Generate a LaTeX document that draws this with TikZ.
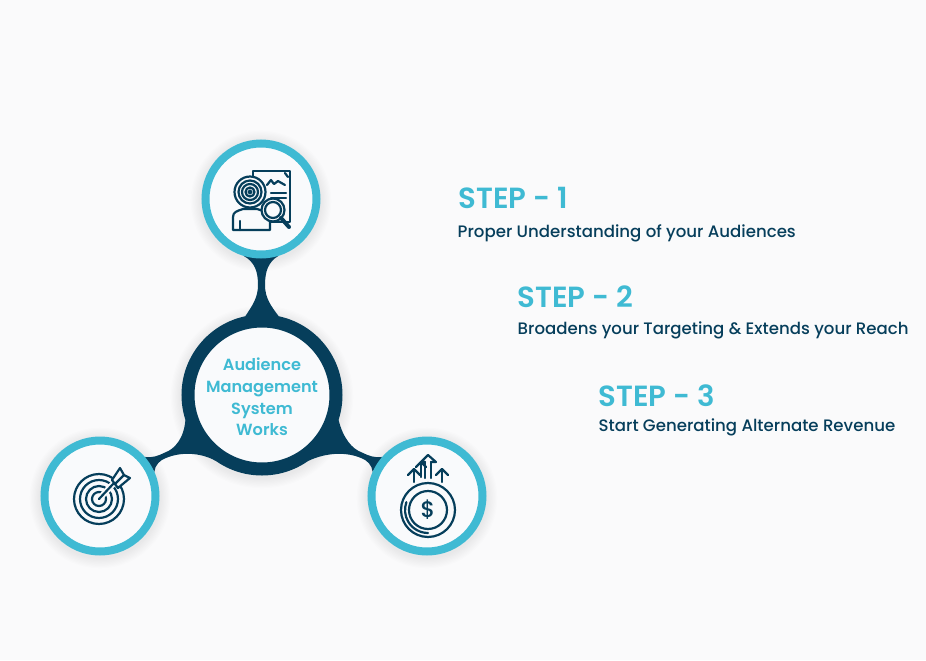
\documentclass[tikz,border=0pt]{standalone}
\usepackage{fontspec}
\setmainfont{Poppins}[UprightFont=* Medium,BoldFont=* SemiBold]
\usetikzlibrary{calc,backgrounds}
\definecolor{capteal}{HTML}{3FBAD3}
\definecolor{capnavy}{HTML}{063E5B}
\definecolor{capback}{HTML}{FAFAFB}
\definecolor{capfill}{HTML}{F9FAFC}
\tikzset{
	stepring/.style={circle,draw=capteal,fill=capfill,line width=0.08cm,minimum size=1.11cm,inner sep=0pt},
	hubring/.style={circle,draw=capnavy,fill=capfill,line width=0.13cm,minimum size=1.48cm,inner sep=0pt},
	hubtext/.style={text=capteal,align=center,font=\fontsize{4.6}{6.15}\selectfont\bfseries},
	steptitle/.style={anchor=base west,inner sep=0pt,text=capteal,font=\fontsize{8.3}{9}\selectfont\bfseries},
	stepsub/.style={anchor=base west,inner sep=0pt,text=capnavy,font=\fontsize{4.72}{6}\selectfont},
	iconline/.style={draw=capnavy,line width=0.022cm,line cap=round,line join=round},
	iconscope/.style={x=0.01cm,y=-0.01cm}
}
\begin{document}
\begin{tikzpicture}
	\useasboundingbox (0.,0.) rectangle (9.26,6.60);
	\node[hubring] (hub) at (2.62,2.65) {};
	\node[hubtext] (hublabel) at (2.62,2.63) {Audience\\Management\\System\\Works};
	\node[stepring] (topring) at (2.61,4.61) {};
	\node[stepring] (leftring) at (1.00,1.64) {};
	\node[stepring] (rightring) at (4.27,1.64) {};
	
	\begin{scope}[on background layer]
		\fill[capback] (0.,0.) rectangle (9.26,6.60);
		\foreach \glow in {1,2,...,9}{
			\fill[black,opacity=0.009] ($(topring)+(0,-0.02)$) circle (0.595+0.012*\glow);
			\fill[black,opacity=0.009] ($(leftring)+(0,-0.02)$) circle (0.595+0.012*\glow);
			\fill[black,opacity=0.009] ($(rightring)+(0,-0.02)$) circle (0.595+0.012*\glow);
			\fill[black,opacity=0.009] ($(hub)+(0,-0.02)$) circle (0.805+0.012*\glow);
		}
		\fill[capnavy] (topring.253) .. controls (2.55,3.98) and (2.58,3.88) .. (2.58,3.75)
			.. controls (2.58,3.62) and (2.52,3.54) .. (hub.102) -- (hub.78)
			.. controls (2.71,3.54) and (2.65,3.62) .. (2.65,3.75)
			.. controls (2.65,3.88) and (2.68,3.98) .. (topring.287) -- cycle;
		\fill[capnavy] (leftring.41) .. controls (1.52,2.02) and (1.58,2.04) .. (1.65,2.075)
			.. controls (1.75,2.11) and (1.84,2.22) .. (hub.198) -- (hub.235)
			.. controls (2.00,2.08) and (1.80,2.08) .. (1.66,2.02)
			.. controls (1.60,2.00) and (1.55,1.95) .. (leftring.24) -- cycle;
		\fill[capnavy] (rightring.139) .. controls (3.75,2.02) and (3.69,2.04) .. (3.62,2.075)
			.. controls (3.52,2.11) and (3.43,2.22) .. (hub.342) -- (hub.305)
			.. controls (3.27,2.08) and (3.47,2.08) .. (3.61,2.02)
			.. controls (3.67,2.00) and (3.72,1.95) .. (rightring.156) -- cycle;
	\end{scope}
	
	% audience icon
	\begin{scope}[shift={(topring)},iconscope]
		\draw[iconline,fill=capfill] (-8,-28) rectangle (29,23);
		\draw[iconline] (6,-14) -- (10,-19) -- (13,-15) -- (17,-18) -- (24,-14);
		\draw[iconline] (24,-26) -- (27,-22);
		\draw[iconline] (10,-6) -- (25,-6);
		\draw[iconline] (10,-1) -- (25,-1);
		\draw[iconline,fill=capfill] (-28,31) -- (-28,18) .. controls (-28,13) and (-24,12) .. (-18,10) -- (-4,10) .. controls (3,12) and (9,14) .. (9,20) -- (9,31) -- cycle;
		\draw[iconline] (-21,22) -- (-21,31);
		\draw[iconline,fill=capfill] (-11,-7) circle (15.5);
		\draw[iconline] (-11,-7) circle (11.5);
		\draw[iconline] (-11,-7) circle (8);
		\draw[iconline] (-11,-7) circle (4.5);
		\draw[iconline] (-11,-7) circle (1.5);
		\draw[iconline,fill=capfill] (12,11) circle (11.5);
		\draw[iconline] (12,11) circle (8);
		\draw[iconline,line width=0.04cm] (20,19) -- (28,28);
	\end{scope}
	
	% target icon
	\begin{scope}[shift={(leftring)},iconscope]
		\draw[iconline] (-1,3) circle (25);
		\draw[iconline] (-1,3) circle (19);
		\draw[iconline] (-1,3) circle (13);
		\draw[iconline] (-1,3) circle (7);
		\draw[capfill,line width=0.06cm] (-1,3) -- (14,-13);
		\draw[iconline] (-1,3) -- (14,-13);
		\draw[iconline,fill=capfill] (12,-16) -- (20,-28) -- (24,-21) -- (30,-18) -- (18,-8) -- cycle;
		\draw[iconline] (15,-12) -- (24,-21);
	\end{scope}
	
	% revenue icon
	\begin{scope}[shift={(rightring)},iconscope]
		\draw[iconline] (1,14) circle (27);
		\draw[iconline] (1,14) circle (19);
		\draw[iconline] (1,37) arc (90:200:23);
		\node[text=capnavy,font=\fontsize{6.4}{7}\selectfont] (coinsign) at (1,14) {\$};
		\draw[iconline] (-13,-14) -- (-13,-26);
		\draw[iconline] (-19,-21) -- (-13,-27) -- (-7,-21);
		\draw[iconline] (15,-14) -- (15,-26);
		\draw[iconline] (9,-21) -- (15,-27) -- (21,-21);
		\draw[iconline] (-6,-19) -- (-6,-33);
		\draw[iconline] (-11,-29) -- (-6,-34) -- (-1,-29);
		\draw[iconline] (-2,-18) -- (-2,-34) (4,-18) -- (4,-34);
		\draw[iconline] (-2,-34) -- (-6,-34) (4,-34) -- (9,-34) -- (1,-41) -- (-6,-34);
	\end{scope}
	
	\node[steptitle] (stepa) at (4.58,4.52) {STEP - 1};
	\node[stepsub] (suba) at (4.57,4.23) {Proper Understanding of your Audiences};
	\node[steptitle] (stepb) at (5.17,3.53) {STEP - 2};
	\node[stepsub] (subb) at (5.17,3.26) {Broadens your Targeting \& Extends your Reach};
	\node[steptitle] (stepc) at (5.98,2.54) {STEP - 3};
	\node[stepsub] (subc) at (5.98,2.29) {Start Generating Alternate Revenue};
\end{tikzpicture}
\end{document}
